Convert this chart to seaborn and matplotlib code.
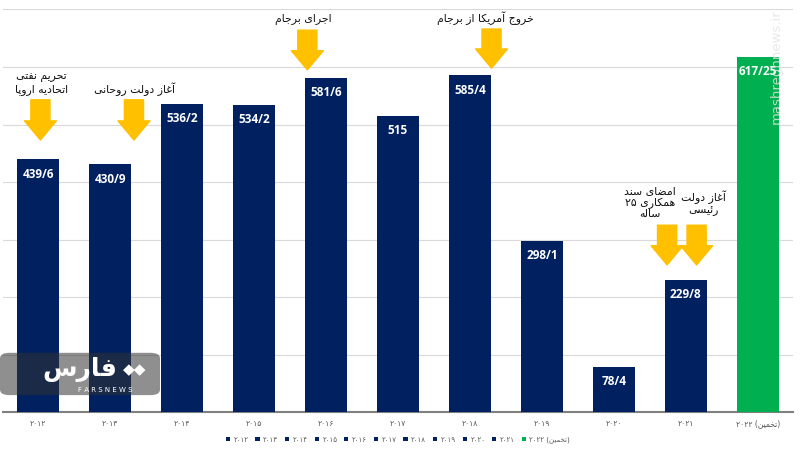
"""
Iran oil export chart (thousand barrels/day), 2012-2022, with event arrows.
"""

import re
import numpy as np
import pandas as pd
import matplotlib
matplotlib.use("Agg")
import matplotlib.pyplot as plt
from matplotlib.patches import FancyBboxPatch
import seaborn as sns

years = ["۲۰۱۲", "۲۰۱۳", "۲۰۱۴", "۲۰۱۵", "۲۰۱۶", "۲۰۱۷",
         "۲۰۱۸", "۲۰۱۹", "۲۰۲۰", "۲۰۲۱", "(تخمین) ۲۰۲۲"]
values = [439.6, 430.9, 536.2, 534.2, 581.6, 515, 585.4, 298.1, 78.4, 229.8, 617.25]
estimated = [False] * 10 + [True]

NAVY = "#002060"
GREEN = "#00B050"
ARROW = "#FFC000"

# --- minimal Persian shaping: matplotlib has no complex text layout ---
FORMS = {
    "\u0621": (0xFE80, 1), "\u0622": (0xFE81, 2), "\u0626": (0xFE89, 4),
    "\u0627": (0xFE8D, 2), "\u0628": (0xFE8F, 4), "\u062A": (0xFE95, 4),
    "\u062B": (0xFE99, 4), "\u062C": (0xFE9D, 4), "\u062D": (0xFEA1, 4),
    "\u062E": (0xFEA5, 4), "\u062F": (0xFEA9, 2), "\u0630": (0xFEAB, 2),
    "\u0631": (0xFEAD, 2), "\u0632": (0xFEAF, 2), "\u0633": (0xFEB1, 4),
    "\u0634": (0xFEB5, 4), "\u0635": (0xFEB9, 4), "\u0636": (0xFEBD, 4),
    "\u0637": (0xFEC1, 4), "\u0638": (0xFEC5, 4), "\u0639": (0xFEC9, 4),
    "\u063A": (0xFECD, 4), "\u0641": (0xFED1, 4), "\u0642": (0xFED5, 4),
    "\u0644": (0xFEDD, 4), "\u0645": (0xFEE1, 4), "\u0646": (0xFEE5, 4),
    "\u0647": (0xFEE9, 4), "\u0648": (0xFEED, 2), "\u067E": (0xFB56, 4),
    "\u0686": (0xFB7A, 4), "\u0698": (0xFB8A, 2), "\u06A9": (0xFB8E, 4),
    "\u06AF": (0xFB92, 4), "\u06CC": (0xFBFC, 4),
}


def shape(text):
    out = []
    for i, ch in enumerate(text):
        if ch not in FORMS:
            out.append(ch)
            continue
        base, n = FORMS[ch]
        prev = text[i - 1] if i > 0 else ""
        nxt = text[i + 1] if i + 1 < len(text) else ""
        j_prev = prev in FORMS and FORMS[prev][1] == 4
        j_next = n == 4 and nxt in FORMS
        if n == 1:
            idx = 0
        elif j_prev and j_next:
            idx = 3
        elif j_prev:
            idx = 1
        elif j_next:
            idx = 2
        else:
            idx = 0
        out.append(chr(base + idx))
    return "".join(out)


def fa(text):
    lines = []
    for line in text.split("\n"):
        rev = shape(line)[::-1].translate({ord("("): ")", ord(")"): "("})
        lines.append(re.sub("[۰-۹0-9]+", lambda m: m.group(0)[::-1], rev))
    return "\n".join(lines)


labels = [fa(y) for y in years]
df = pd.DataFrame({"year": labels, "value": values})
palette = {lab: (GREEN if est else NAVY) for lab, est in zip(labels, estimated)}

plt.rcParams["font.family"] = ["DejaVu Sans"]

fig = plt.figure(figsize=(8, 4.5), dpi=100)
ax = fig.add_axes([0.00375, 0.084, 0.9875, 0.895])

sns.barplot(data=df, x="year", y="value", hue="year", palette=palette,
            width=0.58, saturation=1, ax=ax, legend=True, zorder=3)

ax.set_ylim(0, 700)
ax.set_xlim(-0.49, 10.49)
ax.set_yticks(np.arange(0, 701, 100))
ax.yaxis.grid(True, color="#D9D9D9", linewidth=0.8, zorder=0)
ax.set_axisbelow(True)
ax.tick_params(axis="y", left=False, labelleft=False)
ax.tick_params(axis="x", length=0, pad=5, labelsize=5.5, labelcolor="#595959")
ax.set_xlabel("")
ax.set_ylabel("")
for s in ["top", "right", "left"]:
    ax.spines[s].set_visible(False)
ax.spines["bottom"].set_color("#7F7F7F")
ax.spines["bottom"].set_linewidth(1.5)

# value labels inside bars
for i, v in enumerate(values):
    ax.annotate(f"{v:g}".replace(".", "/"), (i, v), xytext=(0, -6),
                textcoords="offset points", ha="center", va="top",
                color="white", fontsize=8.5, fontweight="bold",
                family="Open Sans", zorder=5)

# event arrows and captions
events = [
    ("تحریم نفتی\nاتحادیه اروپا", 0.04, 551, 0.03, 543, 473),
    ("آغاز دولت روحانی", 1.34, 549, 1.33, 543, 473),
    ("اجرای برجام", 3.68, 673, 3.74, 664, 595),
    ("خروج آمریکا از برجام", 6.22, 673, 6.3, 666, 598),
    ("امضای سند\nهمکاری ۲۵\nساله", 8.5, 335, 8.74, 325, 256),
    ("آغاز دولت\nرئیسی", 9.25, 341, 9.15, 325, 256),
]
for text, tx, ty, ax_x, y0, y1 in events:
    ax.text(tx, ty, fa(text), ha="center", va="bottom", fontsize=7.8,
            color="#111111", linespacing=1.1, zorder=6)
    ax.annotate("", xy=(ax_x, y1), xytext=(ax_x, y0),
                arrowprops=dict(arrowstyle="simple,head_length=0.6,head_width=1.0,tail_width=0.6",
                                color=ARROW, mutation_scale=23, shrinkA=0, shrinkB=0),
                zorder=6)

leg = ax.legend(loc="upper center", bbox_to_anchor=(0.5, -0.045), ncol=11,
                frameon=False, fontsize=5, handlelength=0.6, handleheight=0.6,
                columnspacing=1.0, handletextpad=0.5)
for t in leg.get_texts():
    t.set_color("#595959")

# watermarks
fig.patches.append(FancyBboxPatch((0.0, 0.122), 0.2, 0.094,
                                  boxstyle="round,pad=0,rounding_size=0.012",
                                  transform=fig.transFigure, facecolor="#333333",
                                  edgecolor="none", alpha=0.55, zorder=10))
fig.text(0.1, 0.178, fa("فارس"), color="white", fontsize=18, fontweight="bold",
         ha="center", va="center", zorder=11)
fig.text(0.168, 0.178, "◆◆", color="white", fontsize=11,
         ha="center", va="center", zorder=11)
fig.text(0.132, 0.134, "F A R S N E W S", color="white", fontsize=5,
         ha="center", va="center", zorder=11)
fig.text(0.97, 0.851, "mashreghnews.ir", rotation=90, color="#E4E4E4",
         alpha=0.85, fontsize=9.5, ha="center", va="center", zorder=11)

fig.savefig("out.png", dpi=100)
plt.close(fig)
